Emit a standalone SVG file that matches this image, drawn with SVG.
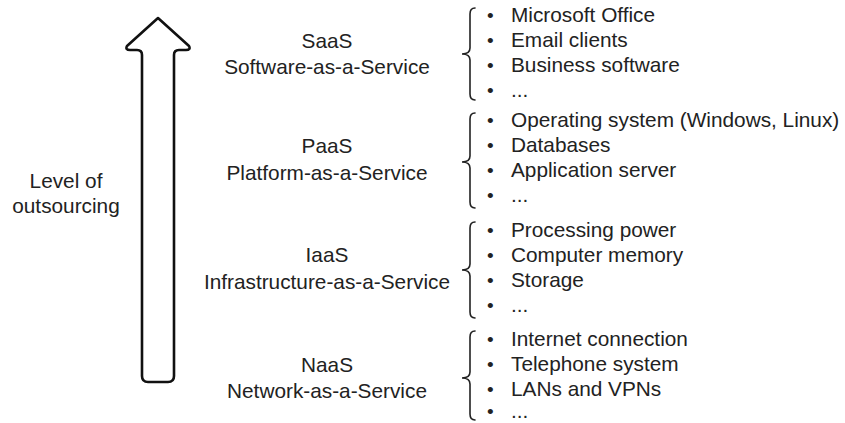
<svg xmlns="http://www.w3.org/2000/svg" width="845" height="423" viewBox="0 0 845 423">
<style>
text{font-family:"Liberation Sans",Arial,sans-serif;font-size:20.8px;fill:#222}
.c{text-anchor:middle}
.b{font-size:19px}
.brace{fill:none;stroke:#222;stroke-width:1.6;stroke-linecap:round}
.arrow{fill:#fff;stroke:#111;stroke-width:2.6;stroke-linejoin:round}
</style>
<rect width="845" height="423" fill="#fff"/>
<g id="connectors">
<path class="arrow" d="M158,18 L189,46 Q191,50 186,50 L179,50 Q174,50 174,55 L174,376 Q174,382 168,382 L148,382 Q142,382 142,376 L142,55 Q142,50 137,50 L130,50 Q125,50 127,46 Z"/>
</g>
<g id="axis-label">
<text class="c" x="66" y="188">Level of</text>
<text class="c" x="66" y="213">outsourcing</text>
</g>
<g id="saas">
<text class="c" x="327" y="48">SaaS</text>
<text class="c" x="327" y="74">Software-as-a-Service</text>
<path class="brace" d="M475,8 Q470,8 470,14 L470,48 Q470,54 462,54 Q470,54 470,60 L470,94 Q470,100 475,100"/>
<text class="b" x="487" y="22">•</text><text x="511" y="22">Microsoft Office</text>
<text class="b" x="487" y="47">•</text><text x="511" y="47">Email clients</text>
<text class="b" x="487" y="72">•</text><text x="511" y="72">Business software</text>
<text class="b" x="487" y="97">•</text><text x="511" y="97">...</text>
</g>
<g id="paas">
<text class="c" x="327" y="153">PaaS</text>
<text class="c" x="327" y="180">Platform-as-a-Service</text>
<path class="brace" d="M475,113 Q470,113 470,119 L470,156 Q470,162 462,162 Q470,162 470,168 L470,202 Q470,208 475,208"/>
<text class="b" x="487" y="127">•</text><text x="511" y="127">Operating system (Windows, Linux)</text>
<text class="b" x="487" y="152">•</text><text x="511" y="152">Databases</text>
<text class="b" x="487" y="177">•</text><text x="511" y="177">Application server</text>
<text class="b" x="487" y="202">•</text><text x="511" y="202">...</text>
</g>
<g id="iaas">
<text class="c" x="327" y="262">IaaS</text>
<text class="c" x="327" y="289">Infrastructure-as-a-Service</text>
<path class="brace" d="M475,222 Q470,222 470,228 L470,264 Q470,270 462,270 Q470,270 470,276 L470,312 Q470,318 475,318"/>
<text class="b" x="487" y="237">•</text><text x="511" y="237">Processing power</text>
<text class="b" x="487" y="262">•</text><text x="511" y="262">Computer memory</text>
<text class="b" x="487" y="287">•</text><text x="511" y="287">Storage</text>
<text class="b" x="487" y="312">•</text><text x="511" y="312">...</text>
</g>
<g id="naas">
<text class="c" x="327" y="372">NaaS</text>
<text class="c" x="327" y="398">Network-as-a-Service</text>
<path class="brace" d="M475,331 Q470,331 470,337 L470,372 Q470,378 462,378 Q470,378 470,384 L470,414 Q470,420 475,420"/>
<text class="b" x="487" y="346">•</text><text x="511" y="346">Internet connection</text>
<text class="b" x="487" y="371">•</text><text x="511" y="371">Telephone system</text>
<text class="b" x="487" y="396">•</text><text x="511" y="396">LANs and VPNs</text>
<text class="b" x="487" y="418">•</text><text x="511" y="418">...</text>
</g>
</svg>
